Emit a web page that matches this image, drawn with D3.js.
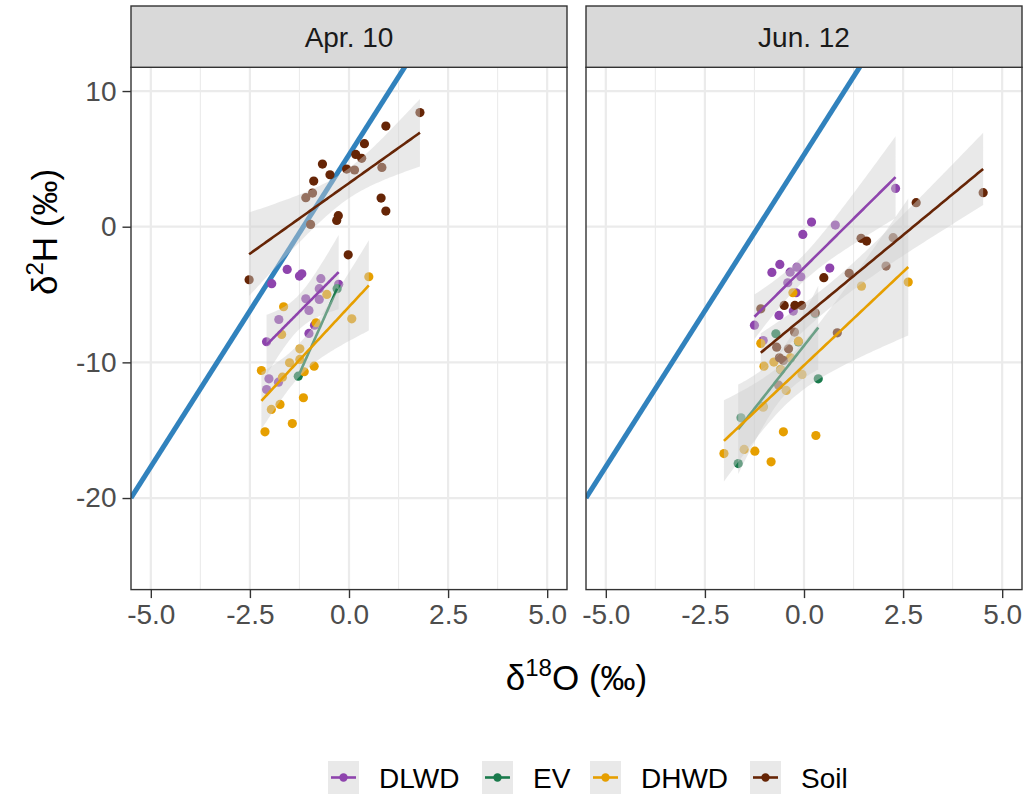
<!DOCTYPE html>
<html><head><meta charset="utf-8">
<script src="https://cdn.jsdelivr.net/npm/d3@7"></script>
<style>
body{margin:0;background:#fff}
text{font-family:"Liberation Sans",Arial,Helvetica,sans-serif}
</style>
</head><body>
<svg id="c" width="1029" height="797"></svg>
<script>
// ---------------- data ----------------
const panels = ["Apr. 10", "Jun. 12"];
const groups = ["DLWD", "EV", "DHWD", "Soil"];
const colors = ["#8E44AD", "#1A7A4C", "#E69F00", "#662506"];
const xTicks = [-5, -2.5, 0, 2.5, 5];
const yTicks = [10, 0, -10, -20];
const xLimits = [-5, 5];
const yLimits = [-25, 10];
// local meteoric water line  d2H = slope * d18O + intercept
const lmwlSlope = 4.6;
const lmwlIntercept = 5.3;

// [d18O, d2H]
const aprDLWD = [[-1.56,-3.15],[-1.25,-3.64],[-1.19,-3.47],[-1.95,-4.20],[-0.71,-3.83],[-0.26,-4.25],
  [-0.75,-4.57],[-1.09,-5.31],[-0.75,-5.36],[-1.01,-6.17],[-1.77,-6.84],[-0.87,-7.26],[-1.01,-7.87],
  [-2.08,-8.48],[-2.02,-11.21],[-2.08,-12.00],[-1.78,-11.46]];
const aprEV = [[-1.28,-11.02],[-0.30,-4.57]];
const aprDHWD = [[0.50,-3.69],[-0.56,-4.99],[-1.65,-5.90],[0.07,-6.79],[-1.70,-7.94],[-0.83,-7.08],
  [-1.24,-9.00],[-1.50,-10.03],[-2.21,-10.60],[-0.88,-10.28],[-1.13,-10.69],[-1.68,-11.09],[-1.24,-9.78],
  [-1.74,-13.10],[-1.96,-13.47],[-1.15,-12.61],[-1.43,-14.51],[-2.12,-15.12]];
const aprSoil = [[1.79,8.41],[0.93,7.42],[0.39,6.12],[0.17,5.33],[0.32,5.04],[-0.67,4.62],[-0.48,3.83],
  [-0.06,4.25],[0.14,4.18],[0.83,4.37],[-0.89,3.36],[-0.92,2.48],[-1.09,2.14],[0.81,2.11],[0.93,1.15],
  [-0.27,0.81],[-0.31,0.46],[-0.97,0.17],[-0.02,-2.07],[-2.52,-3.91]];

const junDLWD = [[2.31,2.82],[0.79,0.12],[0.19,0.34],[-0.03,-0.57],[-0.61,-2.78],[-0.81,-3.37],[-0.35,-3.35],
  [-0.18,-2.98],[-0.08,-3.69],[0.65,-3.05],[-0.41,-4.13],[-0.20,-4.87],[-0.63,-6.54],[-1.25,-7.26],
  [-1.03,-8.39],[-0.27,-6.22]];
// several EV samples sit underneath other points in the dense cluster
const junEV = [[-0.71,-7.89],[0.36,-11.21],[-1.59,-14.09],[-1.66,-17.46],[0.28,-6.40],[-0.14,-8.50],
  [-0.34,-9.70],[-0.59,-10.55],[-1.03,-13.25]];
const junDHWD = [[2.63,-4.08],[1.45,-4.38],[-0.28,-4.87],[-0.14,-8.44],[-1.09,-8.60],[-1.01,-10.28],
  [-0.76,-9.98],[-0.59,-10.52],[-0.34,-9.66],[-0.05,-10.89],[-0.45,-12.07],[-1.03,-13.30],[-0.52,-15.12],
  [0.30,-15.39],[-2.02,-16.72],[-1.51,-16.42],[-1.24,-16.55],[-0.83,-17.33]];
const junSoil = [[4.52,2.51],[2.83,1.77],[1.44,-0.86],[1.58,-1.06],[2.25,-0.81],[2.07,-2.90],[1.14,-3.44],
  [0.50,-3.76],[-0.50,-5.80],[-0.23,-5.80],[-0.06,-5.80],[0.28,-6.34],[0.84,-7.82],[-1.09,-6.05],
  [-0.24,-7.77],[-0.69,-8.88],[-0.39,-9.00],[-0.62,-9.66],[-0.52,-9.86],[-0.64,-11.68]];

const panelData = [[aprDLWD, aprEV, aprDHWD, aprSoil], [junDLWD, junEV, junDHWD, junSoil]];

// ---------------- helpers ----------------
const tTable = [0,12.706,4.303,3.182,2.776,2.571,2.447,2.365,2.306,2.262,2.228,2.201,2.179,2.160,2.145,2.131,
  2.120,2.110,2.101,2.093,2.086,2.080,2.074,2.069,2.064,2.060,2.056,2.052,2.048,2.045,2.042];
function tq(df){ return df < tTable.length ? tTable[df] : 1.96 + 2.4/df; }
function lmFit(pts){
  const n = pts.length;
  const xb = d3.mean(pts, p=>p[0]), yb = d3.mean(pts, p=>p[1]);
  const sxx = d3.sum(pts, p=>(p[0]-xb)**2), sxy = d3.sum(pts, p=>(p[0]-xb)*(p[1]-yb));
  const b = sxy/sxx, a = yb - b*xb;
  const [x0, x1] = d3.extent(pts, p=>p[0]);
  let s = NaN, t = NaN;
  if (n > 2){ s = Math.sqrt(d3.sum(pts, p=>(p[1]-a-b*p[0])**2)/(n-2)); t = tq(n-2); }
  const out = d3.range(80).map(i=>{
    const xv = x0 + (x1-x0)*i/79, fit = a + b*xv;
    const se = s*Math.sqrt(1/n + (xv-xb)**2/sxx);
    return {x:xv, fit, lo:fit - t*se, hi:fit + t*se};
  });
  return {pts:out, band:n>2};
}
function expand(l){ const d=(l[1]-l[0])*0.05; return [l[0]-d, l[1]+d]; }
function minors(t, dom){
  const st = t[1]-t[0], r=[];
  for (let v=t[0]-st/2; v<=t[t.length-1]+st/2+1e-9; v+=st) if (v>=dom[0] && v<=dom[1]) r.push(v);
  return r;
}

// ---------------- layout ----------------
const svg = d3.select("#c");
const panelX = [131, 586], panelW = 436, panelTop = 67.3, panelH = 522.3;
const stripTop = 6, stripH = panelTop - stripTop;
const xDom = expand(xLimits), yDom = expand(yLimits);
const x = d3.scaleLinear().domain(xDom).range([0, panelW]);
const y = d3.scaleLinear().domain(yDom).range([panelH, 0]);
const ribbonFill = "#cfcfcf", ribbonOpacity = 0.45;
const tickFont = 28;

svg.append("rect").attr("width",1029).attr("height",797).attr("fill","#fff");

panels.forEach((pname, i) => {
  const g = svg.append("g").attr("transform", `translate(${panelX[i]},${panelTop})`);
  g.append("rect").attr("width", panelW).attr("height", panelH).attr("fill", "#fff");
  g.append("clipPath").attr("id", "clip"+i).append("rect").attr("width", panelW).attr("height", panelH);

  const grid = g.append("g");
  minors(xTicks, xDom).forEach(v => grid.append("line").attr("x1", x(v)).attr("x2", x(v))
    .attr("y1", 0).attr("y2", panelH).attr("stroke", "#ebebeb").attr("stroke-width", 1.1));
  minors(yTicks, yDom).forEach(v => grid.append("line").attr("y1", y(v)).attr("y2", y(v))
    .attr("x1", 0).attr("x2", panelW).attr("stroke", "#ebebeb").attr("stroke-width", 1.1));
  xTicks.forEach(v => grid.append("line").attr("x1", x(v)).attr("x2", x(v))
    .attr("y1", 0).attr("y2", panelH).attr("stroke", "#ebebeb").attr("stroke-width", 2.2));
  yTicks.forEach(v => grid.append("line").attr("y1", y(v)).attr("y2", y(v))
    .attr("x1", 0).attr("x2", panelW).attr("stroke", "#ebebeb").attr("stroke-width", 2.2));

  const plot = g.append("g").attr("clip-path", `url(#clip${i})`);
  // LMWL
  plot.append("line")
    .attr("x1", x(xDom[0])).attr("y1", y(lmwlSlope*xDom[0] + lmwlIntercept))
    .attr("x2", x(xDom[1])).attr("y2", y(lmwlSlope*xDom[1] + lmwlIntercept))
    .attr("stroke", "#3182BD").attr("stroke-width", 5);
  // points
  panelData[i].forEach((pts, k) => {
    plot.append("g").selectAll("circle").data(pts).join("circle")
      .attr("cx", d => x(d[0])).attr("cy", d => y(d[1])).attr("r", 4.6)
      .attr("fill", colors[k]);
  });
  // smooths
  panelData[i].forEach((pts, k) => {
    const f = lmFit(pts);
    if (f.band) {
      plot.append("path").datum(f.pts)
        .attr("d", d3.area().x(d => x(d.x)).y0(d => y(d.lo)).y1(d => y(d.hi)))
        .attr("fill", ribbonFill).attr("fill-opacity", ribbonOpacity);
    }
    plot.append("path").datum(f.pts)
      .attr("d", d3.line().x(d => x(d.x)).y(d => y(d.fit)))
      .attr("fill", "none").attr("stroke", colors[k]).attr("stroke-width", 2.6);
  });

  g.append("rect").attr("width", panelW).attr("height", panelH)
    .attr("fill", "none").attr("stroke", "#333").attr("stroke-width", 1.4);

  // strip
  svg.append("rect").attr("x", panelX[i]).attr("y", stripTop).attr("width", panelW).attr("height", stripH)
    .attr("fill", "#d9d9d9").attr("stroke", "#333").attr("stroke-width", 1.4);
  svg.append("text").attr("x", panelX[i] + panelW/2).attr("y", stripTop + stripH/2)
    .attr("dy", "0.36em").attr("text-anchor", "middle").attr("font-size", 28)
    .attr("fill", "#1a1a1a").text(pname);

  // x axis
  const xa = g.append("g").attr("transform", `translate(0,${panelH})`)
    .call(d3.axisBottom(x).tickValues(xTicks).tickFormat(d => d.toFixed(1)).tickSize(8.5).tickPadding(6));
  xa.select(".domain").remove();
  xa.selectAll(".tick line").attr("stroke", "#333").attr("stroke-width", 1.4);
  xa.selectAll(".tick text").attr("font-size", tickFont).attr("fill", "#4d4d4d")
    .attr("font-family", "Liberation Sans, Arial, sans-serif");

  if (i === 0) {
    const ya = g.append("g")
      .call(d3.axisLeft(y).tickValues(yTicks).tickFormat(d => String(d)).tickSize(8.5).tickPadding(6));
    ya.select(".domain").remove();
    ya.selectAll(".tick line").attr("stroke", "#333").attr("stroke-width", 1.4);
    ya.selectAll(".tick text").attr("font-size", tickFont).attr("fill", "#4d4d4d")
      .attr("font-family", "Liberation Sans, Arial, sans-serif");
  }
});

// axis titles
const xt = svg.append("text").attr("x", (panelX[0] + panelX[1] + panelW)/2).attr("y", 690)
  .attr("text-anchor", "middle").attr("font-size", 35).attr("fill", "#000");
xt.append("tspan").text("δ");
xt.append("tspan").attr("font-size", 24).attr("dy", -14).text("18");
xt.append("tspan").attr("dy", 14).text("O (‰)");

const yt = svg.append("text").attr("transform", "translate(57,232) rotate(-90)")
  .attr("text-anchor", "middle").attr("font-size", 35).attr("fill", "#000");
yt.append("tspan").text("δ");
yt.append("tspan").attr("font-size", 24).attr("dy", -14).text("2");
yt.append("tspan").attr("dy", 14).text("H (‰)");

// legend
const keyX = [328, 482, 590, 750], keyW = 31, keyH = 33, keyY = 761;
groups.forEach((gname, k) => {
  const lg = svg.append("g").attr("transform", `translate(${keyX[k]},${keyY})`);
  lg.append("rect").attr("width", keyW).attr("height", keyH).attr("fill", "#fff");
  lg.append("rect").attr("width", keyW).attr("height", keyH).attr("fill", ribbonFill).attr("fill-opacity", ribbonOpacity);
  lg.append("line").attr("x1", 3).attr("x2", keyW-3).attr("y1", keyH/2).attr("y2", keyH/2)
    .attr("stroke", colors[k]).attr("stroke-width", 2.6);
  lg.append("circle").attr("cx", keyW/2).attr("cy", keyH/2).attr("r", 4.2).attr("fill", colors[k]);
  lg.append("text").attr("x", keyW + 20).attr("y", keyH/2).attr("dy", "0.36em")
    .attr("font-size", 28).attr("fill", "#000").text(gname);
});
</script>
</body></html>
